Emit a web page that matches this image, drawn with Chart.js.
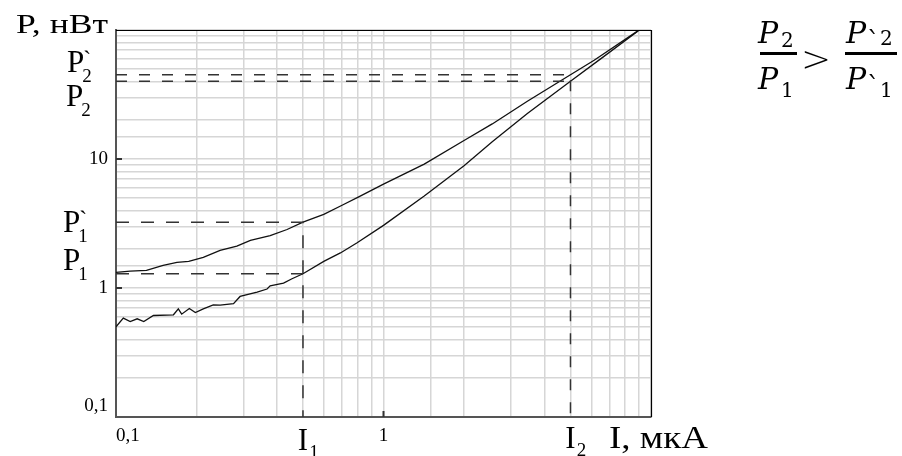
<!DOCTYPE html>
<html>
<head>
<meta charset="utf-8">
<script src="https://cdn.jsdelivr.net/npm/chart.js@4"></script>
<style>
  html, body { margin: 0; padding: 0; background: #fff; }
  #wrap { position: relative; width: 902px; height: 456px; overflow: hidden; }
  #chart { position: absolute; left: 0; top: 0; }
  #eq { position: absolute; left: 0; top: 0; }
</style>
</head>
<body>
<div id="wrap">
  <canvas id="chart" width="902" height="456"></canvas>
  <svg id="eq" width="902" height="456">
    <g font-family="DejaVu Serif" fill="#000">
      <text x="758" y="43" font-size="30" font-style="italic">P</text>
      <text x="781" y="47" font-size="20">2</text>
      <rect x="760" y="52" width="37" height="3"></rect>
      <text x="758" y="89" font-size="30" font-style="italic">P</text>
      <text x="781" y="97" font-size="20">1</text>
      <text x="801" y="71" font-size="36" font-family="DejaVu Sans" font-weight="200">&gt;</text>
      <text x="846" y="43" font-size="30" font-style="italic">P</text>
      <text x="867" y="50" font-size="26">`</text>
      <text x="880" y="45" font-size="20">2</text>
      <rect x="845" y="52" width="52" height="3"></rect>
      <text x="846" y="89" font-size="30" font-style="italic">P</text>
      <text x="867" y="95" font-size="26">`</text>
      <text x="880" y="97" font-size="20">1</text>
    </g>
  </svg>
</div>
<script>
// current, мкА / power, нВт
const upperI = [0.1, 0.113, 0.13, 0.15, 0.169, 0.187, 0.212, 0.245, 0.283, 0.318, 0.377, 0.436, 0.5, 0.598, 0.7, 0.808, 1.0, 1.42, 2.0, 2.55, 3.45, 5.0, 6.13, 8.9];
const upperP = [1.32, 1.35, 1.37, 1.5, 1.58, 1.61, 1.73, 1.96, 2.11, 2.34, 2.55, 2.84, 3.24, 3.72, 4.38, 5.08, 6.38, 9.12, 13.9, 18.7, 28, 45, 58.2, 98];

const lowerI = [0.1, 0.1065, 0.113, 0.12, 0.127, 0.138, 0.164, 0.171, 0.176, 0.188, 0.198, 0.212, 0.231, 0.245, 0.275, 0.291, 0.337, 0.367, 0.377, 0.423, 0.455, 0.5, 0.598, 0.69, 0.797, 1.0, 1.42, 2.0, 2.55, 3.45, 5.0, 6.5, 9.0];
const lowerP = [0.5, 0.584, 0.55, 0.577, 0.55, 0.612, 0.62, 0.69, 0.627, 0.693, 0.646, 0.69, 0.741, 0.737, 0.755, 0.86, 0.93, 0.982, 1.04, 1.09, 1.18, 1.29, 1.61, 1.87, 2.24, 3.06, 5.17, 8.85, 13.6, 22.5, 40, 60, 99];

// marked levels
const I1 = 0.5, I2 = 5;
const P1 = 1.29, P1s = 3.24, P2 = 40, P2s = 45;

const xTickLabels = { 0.1: '0,1', 1: '1' };
const yTickLabels = { 0.1: ['0,1', ''], 1: '1', 10: '10' };
const xTitle = 'I, мкА';
const yTitle = 'P, нВт';

const SERIF = '"Liberation Serif", "Times New Roman", serif';

function pts(xs, ys) {
  return xs.map((v, i) => ({ x: v, y: ys[i] }));
}

function findLabel(map, v) {
  for (const k in map) {
    if (Math.abs(Number(k) - v) < 1e-9) return map[k];
  }
  return '';
}

function dashed(data, dash) {
  return {
    data: data,
    borderColor: '#333',
    borderWidth: 1.5,
    borderDash: dash,
    pointRadius: 0,
    fill: false
  };
}

function stretched(ctx, text, x, base, size, width) {
  ctx.font = size + 'px ' + SERIF;
  const w = ctx.measureText(text).width;
  ctx.save();
  ctx.translate(x, base);
  ctx.scale(width / w, 1);
  ctx.fillText(text, 0, 0);
  ctx.restore();
}

function symLabel(ctx, x, base, sub, tick) {
  ctx.font = '31px ' + SERIF;
  ctx.fillText('P', x, base);
  const sx = x + ctx.measureText('P').width - 2;
  ctx.font = '19px ' + SERIF;
  ctx.fillText(sub, sx, base + 10);
  if (tick) {
    ctx.font = '24px ' + SERIF;
    ctx.fillText('`', sx + 1, base - 5);
  }
}

function iLabel(ctx, px, base, sub) {
  ctx.font = '31px ' + SERIF;
  const w = ctx.measureText('I').width;
  ctx.fillText('I', px - w / 2, base);
  ctx.font = '19px ' + SERIF;
  ctx.fillText(sub, px + w / 2 + 1, base + 8);
}

const overlay = {
  id: 'overlay',
  afterDraw(chart) {
    const { ctx, chartArea: a } = chart;
    const x = chart.scales.x, y = chart.scales.y;
    ctx.save();
    // top and right frame
    ctx.strokeStyle = '#000';
    ctx.lineWidth = 1.2;
    ctx.beginPath();
    ctx.moveTo(a.left, a.top + 0.5);
    ctx.lineTo(a.right + 0.5, a.top + 0.5);
    ctx.lineTo(a.right + 0.5, a.bottom);
    ctx.stroke();
    // short inner ticks at the decades
    ctx.strokeStyle = '#333';
    ctx.lineWidth = 2;
    [1, 10].forEach(v => {
      const py = y.getPixelForValue(v);
      ctx.beginPath();
      ctx.moveTo(a.left, py);
      ctx.lineTo(a.left + 6, py);
      ctx.stroke();
    });
    const px1 = x.getPixelForValue(1);
    ctx.beginPath();
    ctx.moveTo(px1, a.bottom);
    ctx.lineTo(px1, a.bottom - 6);
    ctx.stroke();

    ctx.fillStyle = '#000';
    ctx.textAlign = 'left';
    ctx.textBaseline = 'alphabetic';
    stretched(ctx, yTitle, 16, 33, 27, 92);
    stretched(ctx, xTitle, 609, 448, 31, 99);

    symLabel(ctx, 67, y.getPixelForValue(P2s) - 3, '2', true);
    symLabel(ctx, 66, y.getPixelForValue(P2) + 25, '2', false);
    symLabel(ctx, 63, y.getPixelForValue(P1s) + 9.5, '1', true);
    symLabel(ctx, 63, y.getPixelForValue(P1) - 4, '1', false);

    iLabel(ctx, x.getPixelForValue(I1), 450, '1');
    iLabel(ctx, x.getPixelForValue(I2), 448, '2');
    ctx.restore();
  }
};

new Chart(document.getElementById('chart'), {
  type: 'line',
  data: {
    datasets: [
      dashed([{ x: 0.1, y: P2s }, { x: I2, y: P2s }, { x: I2, y: 0.1 }], [11, 12]),
      dashed([{ x: 0.1, y: P2 }, { x: I2, y: P2 }], [11, 12]),
      dashed([{ x: 0.1, y: P1s }, { x: I1, y: P1s }, { x: I1, y: 0.1 }], [13, 12]),
      dashed([{ x: 0.1, y: P1 }, { x: I1, y: P1 }], [13, 12]),
      {
        data: pts(upperI, upperP),
        borderColor: '#111',
        borderWidth: 1.3,
        pointRadius: 0,
        tension: 0
      },
      {
        data: pts(lowerI, lowerP),
        borderColor: '#111',
        borderWidth: 1.3,
        pointRadius: 0,
        tension: 0
      }
    ]
  },
  options: {
    responsive: false,
    animation: false,
    layout: { padding: { left: 0, top: 30, right: 251, bottom: 0 } },
    plugins: { legend: { display: false }, tooltip: { enabled: false } },
    scales: {
      x: {
        type: 'logarithmic',
        min: 0.1,
        max: 10,
        afterFit: s => { s.height = 39; },
        border: { color: '#555', width: 2 },
        grid: { color: '#d6d6d6', lineWidth: 1.5, drawTicks: false },
        ticks: {
          autoSkip: false,
          maxRotation: 0,
          align: 'inner',
          padding: 8,
          color: '#000',
          font: { family: SERIF, size: 19 },
          callback: v => findLabel(xTickLabels, v)
        }
      },
      y: {
        type: 'logarithmic',
        min: 0.1,
        max: 100,
        afterFit: s => { s.width = 116; },
        border: { color: '#555', width: 2 },
        grid: { color: '#d6d6d6', lineWidth: 1.5, drawTicks: false },
        ticks: {
          autoSkip: false,
          padding: 8,
          color: '#000',
          font: { family: SERIF, size: 19 },
          callback: v => findLabel(yTickLabels, v)
        }
      }
    }
  },
  plugins: [overlay]
});
</script>
</body>
</html>
